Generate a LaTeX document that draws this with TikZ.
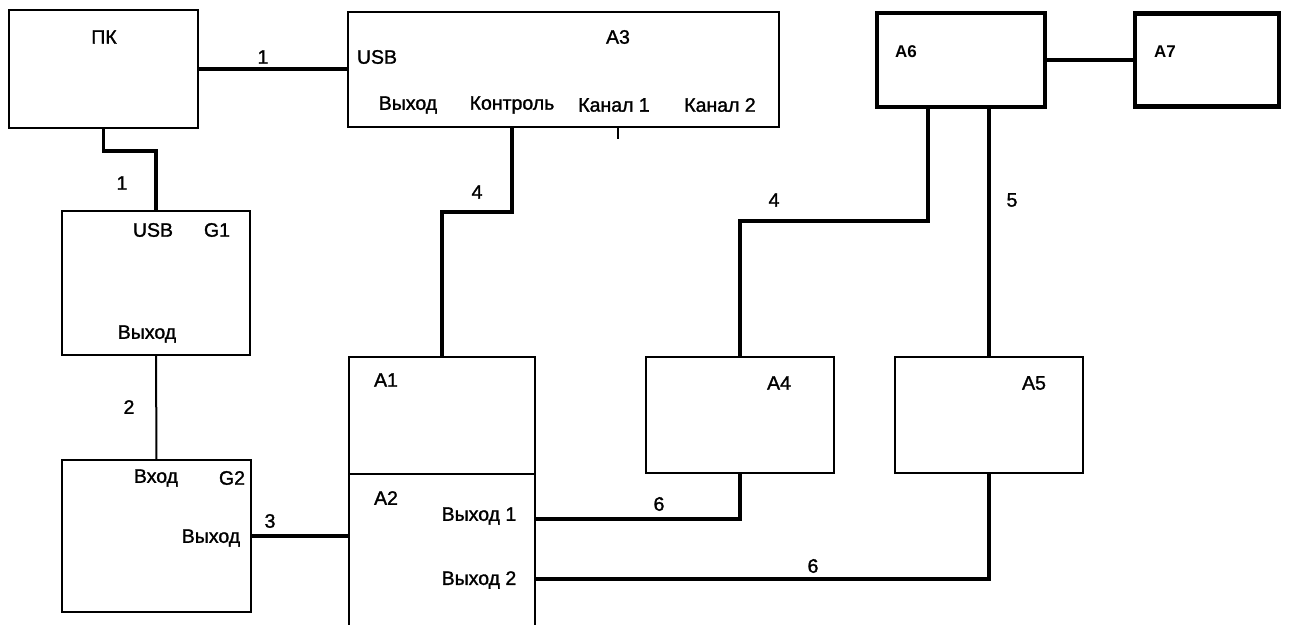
\documentclass[tikz,border=0pt]{standalone}
\usepackage{fontspec}
\setmainfont{Liberation Sans}
\newfontfamily\scanfont{Liberation Sans}[FakeBold=1.4]
\usetikzlibrary{positioning}

\begin{document}
\begin{tikzpicture}[
    x=1pt, y=-1pt,
    box/.style={rectangle, draw=black, line width=2.2pt,
                outer sep=0pt, inner sep=0pt, anchor=north west},
    heavybox/.style={box, line width=4.5pt},
    lbl/.style={inner sep=0pt, font=\scanfont\fontsize{19.5}{22}\selectfont},
    heavylbl/.style={inner sep=0pt, font=\fontsize{17}{20}\selectfont\bfseries},
    wire/.style={line width=3.5pt},
    thinwire/.style={line width=2pt}
]
\path[use as bounding box, clip] (0,0) rectangle (1295,624);

%% ПК и А3
\node[box, minimum width=189pt, minimum height=118pt] (pk) at (9,10) {};
\node[lbl] (pk_t) at (104,37) {ПК};

\node[box, minimum width=431pt, minimum height=115pt] (a3) at (348,12) {};
\node[lbl] (a3_t) at (618,37) {A3};
\node[lbl] (a3_usb) at (377,57) {USB};
\node[lbl] (a3_out) at (408,105) {Выход};
\node[lbl] (a3_ctl) at (512,105) {Контроль};
\node[lbl] (a3_k1) at (614,105) {Канал 1};
\node[lbl] (a3_k2) at (720,105) {Канал 2};
\coordinate (a3_tick) at (618,127);

\draw[wire] (pk.east) -- (pk.east -| a3.west);
\node[lbl] (c1a) at (263,57) {1};
\draw[thinwire] (a3_tick) -- ++(0,12);

%% G1 и G2
\node[box, minimum width=188pt, minimum height=144pt] (g1) at (62,211) {};
\node[lbl] (g1_usb) at (153,230) {USB};
\node[lbl] (g1_t) at (217,230) {G1};
\node[lbl] (g1_out) at (147,334) {Выход};

\node[box, minimum width=189pt, minimum height=152pt] (g2) at (62,460) {};
\node[lbl] (g2_in) at (156,478) {Вход};
\node[lbl] (g2_t) at (232,478) {G2};
\node[lbl] (g2_out) at (211,538) {Выход};

\draw[wire] (pk.south) -- ++(0,23) -| (g1.north);
\node[lbl] (c1b) at (122,183) {1};
\draw[thinwire] (g1.south) -- (g2.north);
\node[lbl] (c2) at (129,407) {2};

%% А1 и А2
\node[box, minimum width=186pt, minimum height=117pt] (a1) at (349,357) {};
\node[lbl] (a1_t) at (386,380) {A1};
\node[box, below=0pt of a1, minimum width=186pt, minimum height=160pt] (a2) {};
\node[lbl] (a2_t) at (386,498) {A2};
\node[lbl] (a2_o1) at (479,516) {Выход 1};
\node[lbl] (a2_o2) at (479,580) {Выход 2};

\draw[wire] (g2.east) -- (g2.east -| a2.west);
\node[lbl] (c3) at (270,521) {3};
\draw[wire] (a3.south -| a3_ctl) -- ++(0,85) -| (a1.north);
\node[lbl] (c4a) at (477,192) {4};

%% А4, А5, А6, А7
\node[box, minimum width=188pt, minimum height=116pt] (a4) at (646,357) {};
\node[lbl] (a4_t) at (779,383) {A4};
\node[box, right=61pt of a4, minimum width=188pt, minimum height=116pt] (a5) {};
\node[lbl] (a5_t) at (1034,383) {A5};

\node[heavybox, minimum width=168pt, minimum height=94pt] (a6) at (877,13) {};
\node[heavylbl] (a6_t) at (906,52) {A6};
\node[heavybox, right=90pt of a6, minimum width=144pt, minimum height=93pt] (a7) {};
\node[heavylbl] (a7_t) at (1165,52) {A7};

\draw[wire] (a6.east) -- (a6.east -| a7.west);
\draw[wire] ([xshift=-33pt]a6.south) -- ++(0,114) -| (a4.north);
\node[lbl] (c4b) at (774,200) {4};
\draw[wire] (a5.north |- a6.south) -- (a5.north);
\node[lbl] (c5) at (1012,200) {5};

\draw[wire] (a2.east |- 0,519) -| (a4.south);
\node[lbl] (c6a) at (659,504) {6};
\draw[wire] (a2.east |- 0,579) -| (a5.south);
\node[lbl] (c6b) at (813,566) {6};

\end{tikzpicture}
\end{document}
